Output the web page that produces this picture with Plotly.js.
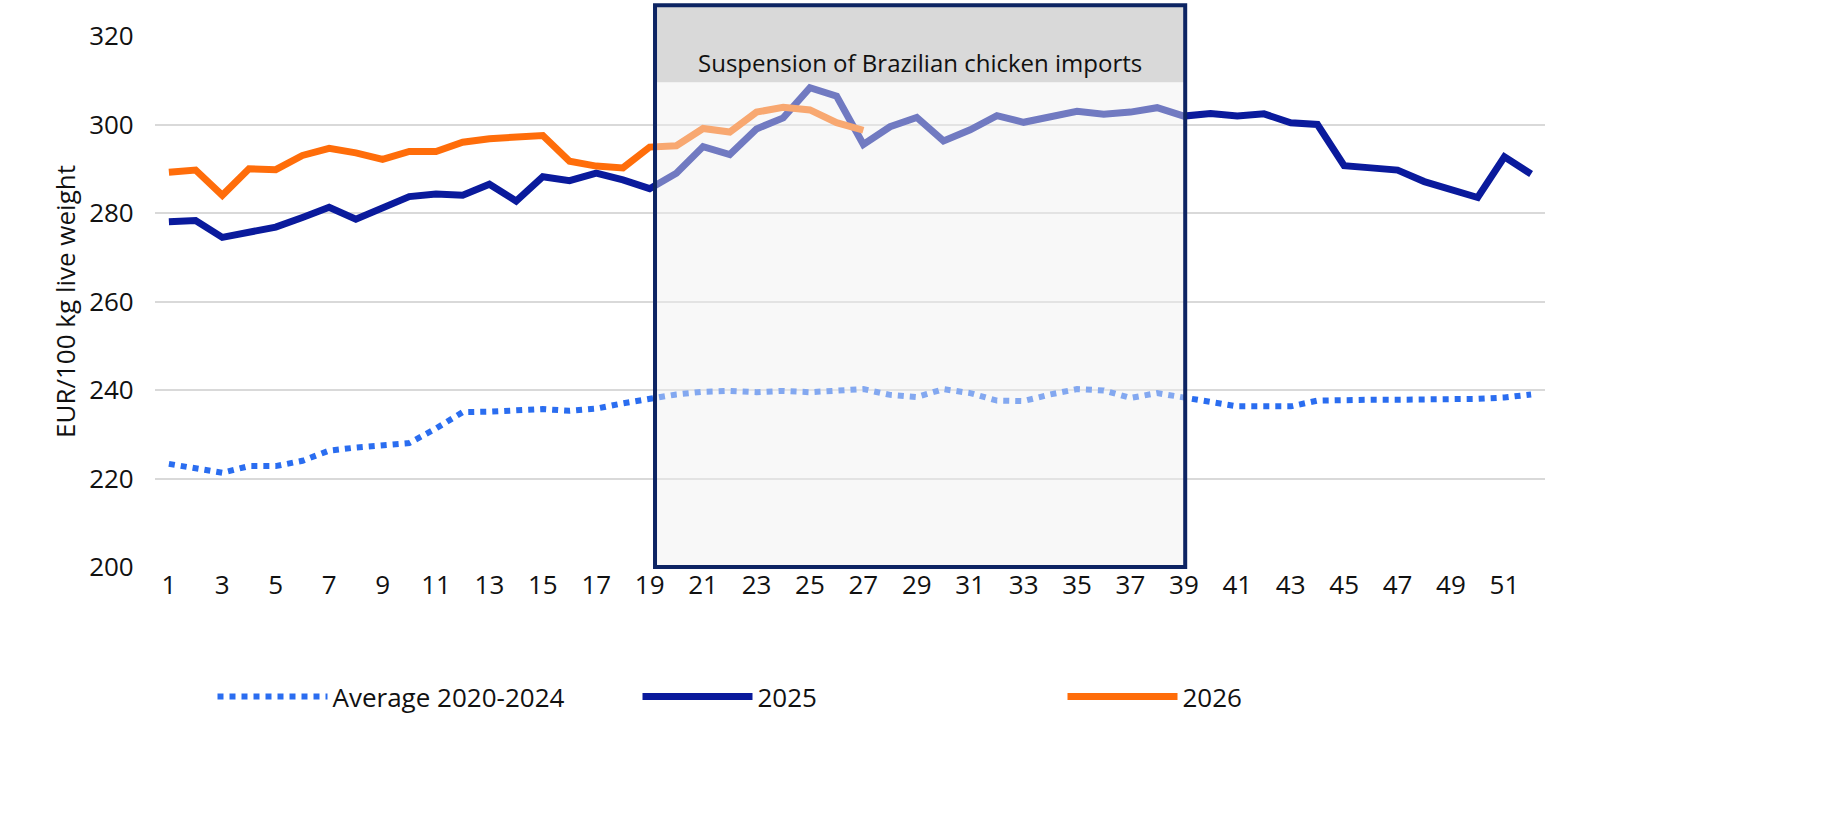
<!DOCTYPE html>
<html>
<head>
<script src="https://cdn.plot.ly/plotly-3.0.1.min.js"></script>
<style>body{margin:0;background:#fff}</style>
</head>
<body>
<div id="chart" style="width:1828px;height:820px"></div>
<script>
var weeks = [];
for (var w = 1; w <= 52; w++) weeks.push(w);

var avg2020_2024 = [223.3,222.4,221.3,222.8,222.8,224,226.3,227,227.4,228,231.3,235,235.1,235.4,235.7,235.3,235.8,237,238,239,
  239.6,239.8,239.5,239.8,239.5,239.8,240.2,238.9,238.4,240.2,239.3,237.6,237.5,239,240.2,239.9,238.2,239.3,238.3,237.6,
  236.3,236.3,236.3,237.6,237.8,237.8,237.8,237.8,238,238,238.3,239];
var y2025 = [278,278.3,274.5,275.5,276.8,279,281.3,278.6,281.2,283.7,284.3,284,286.5,282.7,288.2,287.3,289,287.5,285.5,289,
  295,293.2,299,301.5,308.3,306.4,295.5,299.5,301.6,296.3,298.8,302,300.5,301.9,303,302.3,302.8,303.8,301.9,302.5,
  301.9,302.4,300.4,300,290.7,290.2,289.7,287.1,285.3,283.5,292.7,288.8];
var y2026 = [289.2,289.7,284,290,289.8,293,294.6,293.6,292.1,293.9,293.9,296,296.8,297,297.5,291.7,290.6,290.2,294.9,295.2,
  299.1,298.3,302.8,303.9,303.3,300.4,298.7];
var tickWeeks = [1,3,5,7,9,11,13,15,17,19,21,23,25,27,29,31,33,35,37,39,41,43,45,47,49,51];
var boxStart = 19.2, boxEnd = 39.05;
var boxLabel = 'Suspension of Brazilian chicken imports';

var traces = [
  {x: weeks, y: avg2020_2024, name: 'Average 2020-2024', mode: 'lines',
   line: {color: '#2a6df0', width: 6, dash: 'dot'}},
  {x: weeks, y: y2025, name: '2025', mode: 'lines',
   line: {color: '#0a1a9c', width: 7}},
  {x: weeks.slice(0, y2026.length), y: y2026, name: '2026', mode: 'lines',
   line: {color: '#ff6d0a', width: 7}}
];

var layout = {
  width: 1828, height: 820,
  margin: {l: 155, r: 283, t: 36, b: 253},
  font: {family: 'Open Sans, sans-serif', size: 26, color: '#111'},
  plot_bgcolor: '#fff', paper_bgcolor: '#fff',
  xaxis: {range: [0.48, 52.52], tickvals: tickWeeks, showgrid: false, zeroline: false,
          showline: false, ticks: '', tickfont: {size: 26}},
  yaxis: {range: [200, 320], dtick: 20, gridcolor: '#d9d9d9', gridwidth: 2, zeroline: false,
          ticks: '', tickfont: {size: 26}, ticksuffix: '   ',
          title: {text: 'EUR/100 kg live weight', font: {size: 26}, standoff: 6}},
  showlegend: true,
  legend: {orientation: 'h', x: 0.5, xanchor: 'center', y: -0.2, yanchor: 'top',
           font: {size: 26}, itemwidth: 110, traceorder: 'normal', entrywidth: 300},
  shapes: [
    {type: 'rect', xref: 'x', yref: 'paper', x0: boxStart, x1: boxEnd, y0: 0, y1: 1.058,
     fillcolor: 'rgba(240,240,240,0.45)', line: {width: 0}, layer: 'above'},
    {type: 'rect', xref: 'x', yref: 'paper', x0: boxStart, x1: boxEnd, y0: 0.913, y1: 1.058,
     fillcolor: '#d9d9d9', line: {width: 0}, layer: 'above'},
    {type: 'rect', xref: 'x', yref: 'paper', x0: boxStart, x1: boxEnd, y0: 0, y1: 1.058,
     fillcolor: 'rgba(0,0,0,0)', line: {color: '#0d2463', width: 4}, layer: 'above'}
  ],
  annotations: [
    {xref: 'x', yref: 'paper', x: (boxStart + boxEnd) / 2, y: 0.985, text: boxLabel,
     showarrow: false, font: {size: 24, color: '#111'}}
  ]
};

Plotly.newPlot('chart', traces, layout, {displayModeBar: false});
</script>
</body>
</html>
